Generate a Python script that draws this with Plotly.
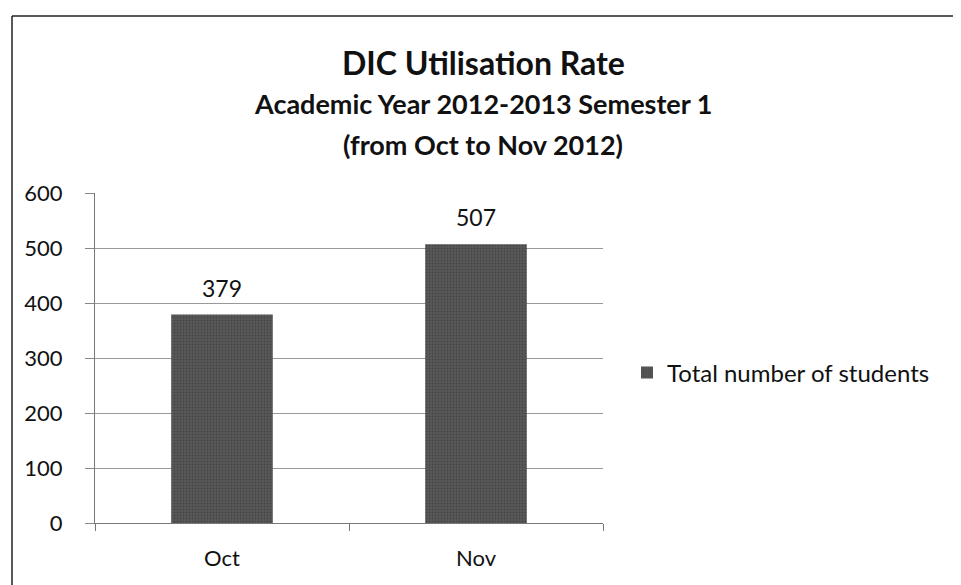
import plotly.graph_objects as go

categories = ["Oct", "Nov"]
students = [379, 507]
series_name = "Total number of students"
y_ticks = [0, 100, 200, 300, 400, 500, 600]
title_lines = ["DIC Utilisation Rate",
               "Academic Year 2012-2013 Semester 1",
               "(from Oct to Nov 2012)"]

FONT = "Lato, 'Open Sans', sans-serif"
OFF = 8  # browser body margin
W, H = 961 - OFF, 585 - OFF

# plot area in page pixels
PX0, PX1, PY0, PY1 = 95, 603, 193, 523
L, R = PX0 - OFF, W - (PX1 - OFF)
T, B = PY0 - OFF, H - (PY1 - OFF)
pw, ph = PX1 - PX0, PY1 - PY0


def px_x(x):
    return (x - PX0) / pw


def px_y(y):
    return (PY1 - y) / ph


fig = go.Figure()
fig.add_trace(go.Bar(
    x=categories, y=students, name=series_name,
    marker=dict(color="#5a5a5a", line=dict(width=0),
                pattern=dict(shape=".", fgcolor="#2e2e2e", size=3, solidity=0.35)),
))

annotations = []
for c, v in zip(categories, students):
    annotations.append(dict(x=c, y=v, xref="x", yref="y", text=str(v),
                            showarrow=False, yanchor="middle", yshift=27,
                            font=dict(family=FONT, size=23, color="#111")))

title_specs = [(title_lines[0], 63, 32), (title_lines[1], 103, 27), (title_lines[2], 144, 27)]
for txt, yc, sz in title_specs:
    annotations.append(dict(text="<b>%s</b>" % txt, xref="paper", yref="paper",
                            x=px_x(483), y=px_y(yc), xanchor="center", yanchor="middle",
                            showarrow=False, font=dict(family=FONT, size=sz, color="#111")))

line_style = dict(color="#222", width=1.5)
shapes = [
    dict(type="line", xref="paper", yref="paper", x0=px_x(12), x1=px_x(12),
         y0=px_y(16), y1=px_y(600), line=line_style),
    dict(type="line", xref="paper", yref="paper", x0=px_x(12), x1=px_x(957),
         y0=px_y(16), y1=px_y(16), line=line_style),
    dict(type="line", xref="paper", yref="paper", x0=px_x(957), x1=px_x(957),
         y0=px_y(16), y1=px_y(600), line=dict(color="#777", width=1)),
]

fig.update_layout(
    width=W, height=H,
    margin=dict(l=L, r=R, t=T, b=B),
    paper_bgcolor="white", plot_bgcolor="white",
    font=dict(family=FONT, color="#111"),
    bargap=0.6,
    showlegend=True,
    legend=dict(x=px_x(627), y=px_y(373), xanchor="left", yanchor="middle",
                font=dict(family=FONT, size=24, color="#111"),
                bgcolor="rgba(0,0,0,0)"),
    xaxis=dict(showline=True, linecolor="#777", linewidth=1,
               ticks="outside", tickson="boundaries", ticklen=7, tickcolor="#777",
               ticklabelstandoff=16,
               tickfont=dict(family=FONT, size=22, color="#111"),
               showgrid=False),
    yaxis=dict(range=[0, 600], tickvals=y_ticks, showline=True, linecolor="#777",
               linewidth=1, ticks="outside", ticklen=9, tickcolor="#888",
               ticklabelstandoff=18,
               gridcolor="#999999", gridwidth=1,
               tickfont=dict(family=FONT, size=22, color="#111"),
               zeroline=False),
    annotations=annotations,
    shapes=shapes,
)

fig.write_html("out.html")
